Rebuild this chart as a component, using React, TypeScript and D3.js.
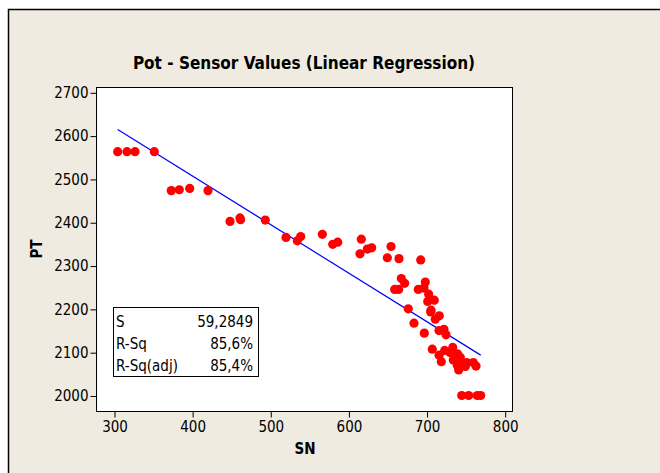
import React, { useEffect, useRef } from "react";
import * as d3 from "d3";

// SN (x) and PT (y) readings
const snValues = [
  304.7, 316.6, 326.9, 351.6, 373.3, 383.6, 396.9, 420.3, 448.5, 461.2, 462.0,
  493.6, 520.1, 534.6, 538.9, 566.6, 579.9, 586.3, 616.5, 614.8, 624.2, 629.8,
  654.5, 649.8, 664.7, 692.5, 667.7, 672.0, 659.2, 664.3, 698.4, 689.4, 696.7,
  702.7, 701.5, 709.9, 705.7, 705.3, 716.3, 711.2, 676.6, 683.9, 697.1, 715.9,
  722.3, 724.9, 707.3, 716.0, 718.9, 723.2, 733.5, 730.0, 739.8, 743.2, 734.2,
  739.3, 741.1, 746.3, 751.4, 749.6, 759.8, 763.3, 745.0, 753.9, 764.9, 769.3,
];
const ptValues = [
  2563, 2563, 2563, 2563, 2473, 2475, 2478, 2473, 2402, 2410, 2406, 2405, 2365,
  2357, 2367, 2372, 2349, 2354, 2361, 2327, 2338, 2341, 2344, 2318, 2316, 2313,
  2270, 2259, 2245, 2245, 2262, 2245, 2248, 2234, 2217, 2220, 2197, 2193, 2184,
  2176, 2200, 2167, 2144, 2150, 2153, 2140, 2107, 2093, 2078, 2104, 2111, 2099,
  2096, 2088, 2082, 2070, 2059, 2074, 2076, 2067, 2076, 2068, 2000, 2000, 2000,
  2000,
];

// fitted line PT = intercept + slope * SN
const fitIntercept = 2955.6;
const fitSlope = -1.121;

const xTicks = [300, 400, 500, 600, 700, 800];
const yTicks = [2000, 2100, 2200, 2300, 2400, 2500, 2600, 2700];

const statLabels = ["S", "R-Sq", "R-Sq(adj)"];
const statValues = ["59,2849", "85,6%", "85,4%"];

const FONT = "'DejaVu Sans Condensed', 'DejaVu Sans', sans-serif";

export default function App() {
  const ref = useRef<SVGSVGElement>(null);

  useEffect(() => {
    const svg = d3.select(ref.current);
    svg.selectAll("*").remove();

    const plot = { left: 96, right: 512, top: 87, bottom: 411 };

    // outer beige panel
    svg
      .append("rect")
      .attr("x", 8.5)
      .attr("y", 9.5)
      .attr("width", 700)
      .attr("height", 500)
      .attr("fill", "#EFEBE1")
      .attr("stroke", "#000")
      .attr("stroke-width", 1.5);

    const x = d3.scaleLinear().domain([300, 800]).range([114, 504.7]);
    const y = d3.scaleLinear().domain([2000, 2700]).range([395.5, 92.3]);

    svg
      .append("rect")
      .attr("x", plot.left + 0.5)
      .attr("y", plot.top + 0.5)
      .attr("width", plot.right - plot.left)
      .attr("height", plot.bottom - plot.top)
      .attr("fill", "#fff")
      .attr("stroke", "#000");

    const xAxis = svg
      .append("g")
      .attr("transform", `translate(0.5,${plot.bottom + 0.5})`)
      .call(
        d3
          .axisBottom(x)
          .tickValues(xTicks)
          .tickFormat(d3.format("d"))
          .tickSize(6)
          .tickPadding(4)
          .tickSizeOuter(0)
      );
    xAxis.select(".domain").remove();
    xAxis
      .selectAll("text")
      .style("font-family", FONT)
      .style("font-size", "15px")
      .attr("fill", "#000");

    const yAxis = svg
      .append("g")
      .attr("transform", `translate(${plot.left + 0.5},0.5)`)
      .call(
        d3
          .axisLeft(y)
          .tickValues(yTicks)
          .tickFormat(d3.format("d"))
          .tickSize(6)
          .tickPadding(2)
          .tickSizeOuter(0)
      );
    yAxis.select(".domain").remove();
    yAxis
      .selectAll("text")
      .style("font-family", FONT)
      .style("font-size", "15px")
      .attr("fill", "#000");

    // regression line
    const xs = d3.extent(snValues) as [number, number];
    svg
      .append("line")
      .attr("x1", x(xs[0]))
      .attr("y1", y(fitIntercept + fitSlope * xs[0]))
      .attr("x2", x(xs[1]))
      .attr("y2", y(fitIntercept + fitSlope * xs[1]))
      .attr("stroke", "#0000FF")
      .attr("stroke-width", 1.2);

    svg
      .append("g")
      .selectAll("circle")
      .data(snValues)
      .join("circle")
      .attr("cx", (d) => x(d))
      .attr("cy", (d, i) => y(ptValues[i]))
      .attr("r", 4.6)
      .attr("fill", "#FF0000");

    // stats box
    const box = svg.append("g");
    box
      .append("rect")
      .attr("x", 113.5)
      .attr("y", 307.5)
      .attr("width", 145)
      .attr("height", 69)
      .attr("fill", "#fff")
      .attr("stroke", "#000");
    statLabels.forEach((s, i) => {
      box
        .append("text")
        .attr("x", 116)
        .attr("y", 327 + i * 22)
        .attr("font-family", FONT)
        .attr("font-size", 15)
        .text(s);
      box
        .append("text")
        .attr("x", 253)
        .attr("y", 327 + i * 22)
        .attr("text-anchor", "end")
        .attr("font-family", FONT)
        .attr("font-size", 15)
        .text(statValues[i]);
    });

    svg
      .append("text")
      .attr("x", 304)
      .attr("y", 69)
      .attr("text-anchor", "middle")
      .attr("font-family", FONT)
      .attr("font-weight", "bold")
      .attr("font-size", 17)
      .text("Pot - Sensor Values (Linear Regression)");

    svg
      .append("text")
      .attr("x", 305)
      .attr("y", 454)
      .attr("text-anchor", "middle")
      .attr("font-family", FONT)
      .attr("font-weight", "bold")
      .attr("font-size", 15)
      .text("SN");

    svg
      .append("text")
      .attr("transform", "translate(42,249) rotate(-90)")
      .attr("text-anchor", "middle")
      .attr("font-family", FONT)
      .attr("font-weight", "bold")
      .attr("font-size", 15)
      .text("PT");
  }, []);

  return (
    <svg
      ref={ref}
      width={660}
      height={473}
      style={{ position: "absolute", left: 0, top: 0, background: "#fff" }}
    />
  );
}
